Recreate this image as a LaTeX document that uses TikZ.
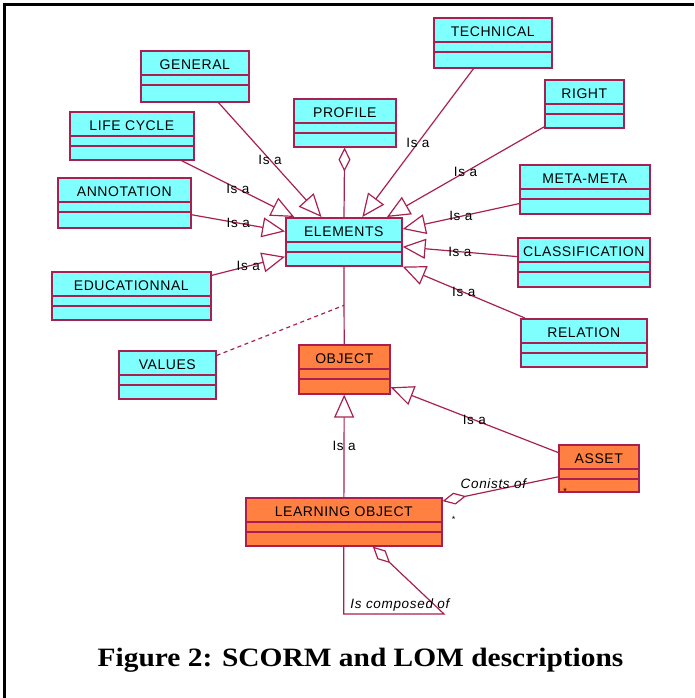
\documentclass[tikz,border=0pt]{standalone}
\usepackage{fontspec}
\setmainfont{Liberation Sans}
\newfontfamily\boxfont[LetterSpace=4]{Liberation Sans}
\newfontfamily\lblfont[LetterSpace=5]{Liberation Sans}
\newfontfamily\capfont{Liberation Serif}
\usetikzlibrary{arrows.meta,calc}

\definecolor{umlred}{RGB}{168,32,80}
\definecolor{umlcyan}{RGB}{128,255,255}
\definecolor{umlorange}{RGB}{255,128,64}

\tikzset{
  classbox/.style={draw=umlred, line width=1.6pt, rectangle, anchor=north west,
    inner sep=0pt, text height=19pt, align=center,
    font=\boxfont\fontsize{14}{16}\selectfont},
  boxline/.style={draw=umlred, line width=1.6pt},
  conn/.style={draw=umlred, line width=1.2pt},
  isa/.style={conn, -{Triangle[open, length=23pt, width=20pt]}},
  aggr/.style={conn, -{Diamond[open, length=24pt, width=12pt]}},
  dashline/.style={conn, dash pattern=on 4pt off 3.5pt},
  lbl/.style={inner sep=0pt, font=\lblfont\fontsize{13.5}{15}\selectfont},
  itlbl/.style={inner sep=0pt, font=\lblfont\itshape\fontsize{13.5}{15}\selectfont},
  mult/.style={inner sep=0pt, font=\lblfont\fontsize{9}{10}\selectfont},
}

% UML class with a name compartment and two empty compartments
% #1 name, #2 left, #3 top, #4 right, #5 bottom, #6 fill, #7 title
\newcommand\umlbox[7]{%
  \pgfmathsetmacro\boxw{#4-#2}%
  \pgfmathsetmacro\boxd{#5-#3-19}%
  \node[classbox, fill=#6, minimum width=\boxw pt, text depth=\boxd pt] (#1) at (#2,#3) {#7};
  \draw[boxline] ([yshift=-25pt]#1.north west) -- ([yshift=-25pt]#1.north east)
                 ([yshift=-35pt]#1.north west) -- ([yshift=-35pt]#1.north east);
}

\begin{document}
\begin{tikzpicture}[x=1pt, y=-1pt]
\useasboundingbox (0,0) rectangle (694,698);

% page frame (left and top rules)
\draw[line width=3pt] (4.5,698) -- (4.5,4.5) -- (694,4.5);

% classes
\umlbox{general}{140}{50}{248}{101}{umlcyan}{GENERAL}
\umlbox{lifecycle}{69}{111}{193}{159}{umlcyan}{LIFE CYCLE}
\umlbox{annotation}{57}{177}{190}{227}{umlcyan}{ANNOTATION}
\umlbox{profile}{293}{98}{395}{146}{umlcyan}{PROFILE}
\umlbox{technical}{433}{17}{551}{67}{umlcyan}{TECHNICAL}
\umlbox{right}{544}{79}{623}{127}{umlcyan}{RIGHT}
\umlbox{metameta}{519}{164}{649}{213}{umlcyan}{META-META}
\umlbox{elements}{285}{217}{401}{265}{umlcyan}{ELEMENTS}
\umlbox{classification}{517}{237}{649}{286}{umlcyan}{CLASSIFICATION}
\umlbox{relation}{520}{318}{646}{366}{umlcyan}{RELATION}
\umlbox{educational}{51}{271}{210}{319}{umlcyan}{EDUCATIONNAL}
\umlbox{values}{118}{350}{215}{398}{umlcyan}{VALUES}
\umlbox{object}{298}{344}{389}{393}{umlorange}{OBJECT}
\umlbox{asset}{558}{444}{638}{491}{umlorange}{ASSET}
\umlbox{lo}{245}{497}{441}{545}{umlorange}{LEARNING OBJECT}

% generalisations towards ELEMENTS
\draw[isa] (general) -- node[lbl]{Is a} (elements);
\draw[isa] (lifecycle) -- node[lbl]{Is a} (elements);
\draw[isa] (annotation) -- node[lbl]{Is a} (elements);
\draw[isa] (educational) -- node[lbl]{Is a} (elements);
\draw[isa] (technical) -- node[lbl]{Is a} (elements);
\draw[isa] (right) -- node[lbl]{Is a} (elements);
\draw[isa] (metameta) -- node[lbl]{Is a} (elements);
\draw[isa] (classification) -- node[lbl]{Is a} (elements);
\draw[isa] (relation) -- node[lbl]{Is a} (elements);

% PROFILE aggregation
\draw[aggr] (elements) -- (profile);

% ELEMENTS -- OBJECT association and VALUES link
\draw[conn] (elements) -- (object);
\coordinate (vlink) at ($(elements.south)!0.5!(object.north)$);
\draw[dashline] (values) -- (vlink);

% generalisations towards OBJECT
\draw[isa] (lo) -- node[lbl]{Is a} (object);
\draw[isa] (asset) -- node[lbl]{Is a} (object);

% LEARNING OBJECT consists of ASSET
\draw[aggr] (asset) -- node[itlbl, pos=0.56, anchor=south, yshift=1.5pt]{Conists of} (lo);
\node[mult] (mlo) at ([xshift=11pt, yshift=2pt]lo.east) {*};
\node[mult] (masset) at ([xshift=7pt, yshift=1pt]asset.south west) {*};

% self aggregation of LEARNING OBJECT
\coordinate (selfA) at (lo.south |- 0,614);
\coordinate (selfB) at (444,614);
\coordinate (selfC) at ([xshift=29pt]lo.south);
\draw[aggr] (lo.south) -- (selfA) -- node[itlbl, pos=0.56, above=2pt]{Is composed of} (selfB) -- (selfC);

% caption
\node[anchor=base, inner sep=0pt, font=\capfont\bfseries\fontsize{26.5}{30}\selectfont]
  (caption) at (360.5,666) {\scalebox{1.11}[1]{Figure 2: SCORM and LOM descriptions}};
\end{tikzpicture}
\end{document}
